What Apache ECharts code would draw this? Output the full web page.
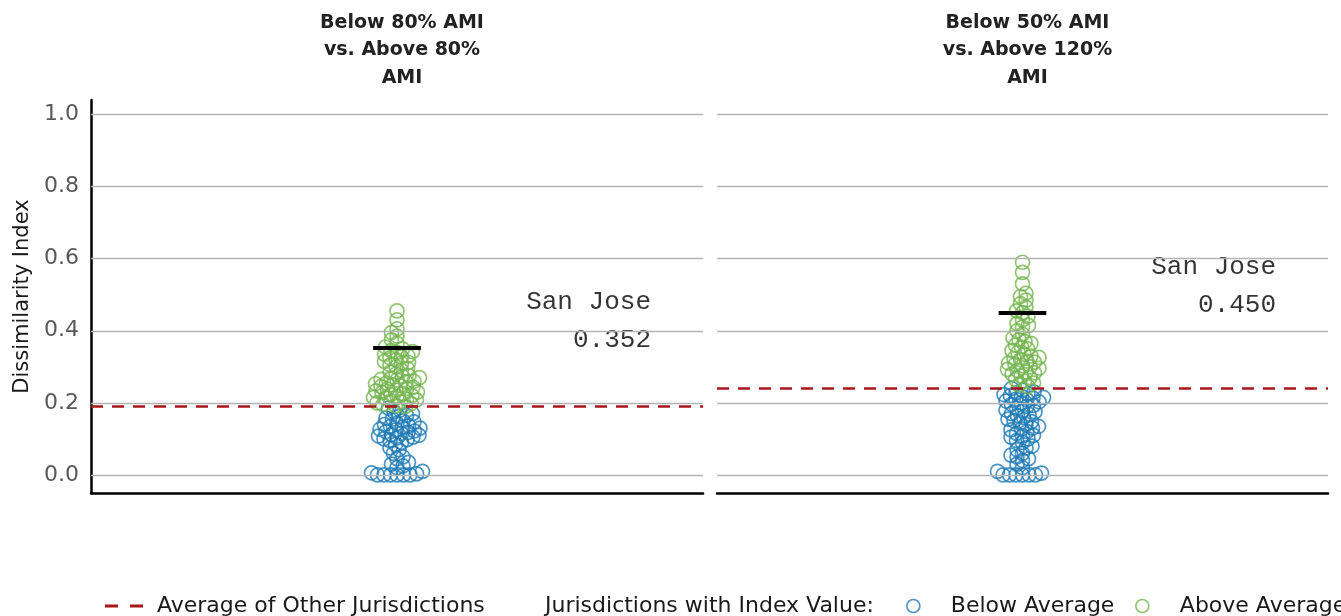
<!DOCTYPE html>
<html><head><meta charset="utf-8">
<script src="https://cdn.jsdelivr.net/npm/echarts@6/dist/echarts.min.js"></script>
<style>html,body{margin:0;padding:0;background:#fff}#c{width:1341px;height:616px}</style>
</head><body><div id="c"></div>
<script>
// ---- data ----
const panelTitles = ['Below 80% AMI\nvs. Above 80%\nAMI', 'Below 50% AMI\nvs. Above 120%\nAMI'];
const yTicks = [0, 0.2, 0.4, 0.6, 0.8, 1.0];
const averageOther = [0.188, 0.241];
const sanJose = [0.352, 0.450];
const sanJoseLabel = 'San Jose';

const belowLeft = [0,0,0,0,0,0,0.003,0.006,0.01,
  0.02,0.025,0.03,0.035,
  0.045,0.05,0.06,0.07,0.075,
  0.085,0.09,0.095,0.098,0.10,0.103,0.105,0.108,0.11,0.112,0.115,0.118,0.12,0.122,0.125,0.127,0.13,0.132,0.135,0.137,0.14,
  0.143,0.147,0.15,0.155,0.158,0.162,0.165,0.17,0.175,0.18,0.185];
const aboveLeft = [0.19,0.192,0.195,0.198,0.20,0.203,0.205,0.208,0.21,0.213,0.215,0.218,0.22,0.223,0.225,0.228,
  0.23,0.233,0.235,0.238,0.24,0.243,0.245,0.248,0.25,0.253,0.255,0.258,0.26,0.263,0.265,0.268,0.27,0.273,0.275,
  0.28,0.285,0.29,0.295,0.30,
  0.305,0.31,0.312,0.315,0.32,0.325,0.328,0.33,0.335,0.34,0.342,0.345,0.35,0.355,
  0.365,0.375,0.385,0.395,0.405,
  0.43,0.455];
const belowRight = [0,0,0,0,0,0,0.005,0.01,
  0.02,0.03,0.04,0.045,0.05,0.055,0.06,0.07,0.075,0.08,0.09,0.095,
  0.10,0.105,0.108,0.11,0.115,0.12,0.125,0.128,0.13,0.135,0.14,0.145,0.148,0.15,0.155,0.16,0.165,0.168,0.17,0.175,0.178,0.18,0.185,
  0.19,0.193,0.196,0.2,0.203,0.205,0.208,0.21,0.213,0.215,0.218,0.22,0.223,0.225,0.228,0.23,0.235,0.24];
const aboveRight = [0.245,0.25,0.255,0.26,0.265,0.27,0.275,0.28,
  0.283,0.286,0.29,0.293,0.296,0.30,0.303,0.306,0.31,0.313,0.316,0.32,0.323,0.326,0.33,0.335,0.34,0.345,
  0.35,0.355,0.36,0.365,0.37,0.375,
  0.38,0.39,0.40,0.41,0.415,0.42,0.43,0.44,0.45,0.455,
  0.465,0.475,0.485,0.495,
  0.504,0.53,0.562,0.59];

const legendNames = ['Average of Other Jurisdictions', 'Jurisdictions with Index Value:', 'Below Average', 'Above Average'];

// ---- styles ----
const BLUE = '#1f7ab5', GREEN = '#76b551', RED = '#a8151a';
const FONT = '"DejaVu Sans", sans-serif';
const grids = [
  {left: 91, width: 612, top: 100, height: 393},
  {left: 717, width: 611, top: 100, height: 393}
];
const YMIN = -0.05, YMAX = 1.04;

// beeswarm layout (pixel-space collision avoidance), returns x offsets in axis units
function swarm(groups, grid) {
  const pxY = grid.height / (YMAX - YMIN);
  const pxX = grid.width / 2;
  const d = 6.2;
  const placed = [];
  const out = groups.map(() => []);
  const all = [];
  groups.forEach((g, gi) => g.forEach(v => all.push({v, gi})));
  all.sort((a, b) => a.v - b.v);
  all.forEach((p, idx) => {
    const y = p.v * pxY;
    const near = placed.filter(q => Math.abs(q.y - y) < d);
    const ok = x => near.every(q => (q.x - x) ** 2 + (q.y - y) ** 2 >= d * d - 1e-6);
    let xs = 0;
    const dir = idx % 2 ? -1 : 1;
    for (let k = 0; k < 400; k++) {
      const cands = k === 0 ? [0] : [dir * k * 0.5, -dir * k * 0.5];
      const f = cands.find(ok);
      if (f !== undefined) { xs = f; break; }
    }
    placed.push({x: xs, y});
    out[p.gi].push([xs / pxX, p.v]);
  });
  return out;
}

const panels = [[belowLeft, aboveLeft], [belowRight, aboveRight]];
const series = [];
const xAxes = [], yAxes = [];
const titles = [];

panels.forEach((groups, i) => {
  const grid = grids[i];
  const [bPts, aPts] = swarm(groups, grid);
  xAxes.push({gridIndex: i, type: 'value', min: -1, max: 1, show: true,
    axisLine: {show: true, onZero: false, lineStyle: {color: '#000', width: 2.5}},
    axisTick: {show: false}, axisLabel: {show: false}, splitLine: {show: false}});
  yAxes.push({gridIndex: i, type: 'value', min: YMIN, max: YMAX, interval: 0.05, position: 'left',
    name: i === 0 ? 'Dissimilarity Index' : '', nameLocation: 'middle', nameGap: 58,
    nameTextStyle: {fontFamily: FONT, fontSize: 21, color: '#1a1a1a'},
    axisLine: {show: i === 0, onZero: false, lineStyle: {color: '#000', width: 2.5}},
    axisTick: {show: false},
    axisLabel: {show: i === 0, margin: 12, fontFamily: FONT, fontSize: 22, color: '#595959',
      formatter: v => yTicks.some(t => Math.abs(t - v) < 1e-6) ? v.toFixed(1) : ''},
    splitLine: {show: false}});
  titles.push({text: panelTitles[i], left: grid.left + grid.width / 2, top: 4, textAlign: 'center',
    textStyle: {fontFamily: FONT, fontSize: 19, fontWeight: 'bold', color: '#222', lineHeight: 27.5}});
  // grid lines
  series.push({type: 'scatter', xAxisIndex: i, yAxisIndex: i, data: [], silent: true, z: 1,
    markLine: {silent: true, symbol: ['none', 'none'], label: {show: false}, animation: false,
      lineStyle: {color: '#b4b4b4', type: 'solid', width: 1.3},
      data: yTicks.map(t => ({yAxis: t}))}});
  series.push({name: 'Below Average', type: 'scatter', xAxisIndex: i, yAxisIndex: i, data: bPts,
    symbol: 'circle', symbolSize: 14, z: 2,
    itemStyle: {color: 'rgba(0,0,0,0)', borderColor: BLUE, borderWidth: 1.7}});
  series.push({name: 'Above Average', type: 'scatter', xAxisIndex: i, yAxisIndex: i, data: aPts,
    symbol: 'circle', symbolSize: 14, z: 2,
    itemStyle: {color: 'rgba(0,0,0,0)', borderColor: GREEN, borderWidth: 1.7}});
  series.push({name: 'Average of Other Jurisdictions', type: 'line', xAxisIndex: i, yAxisIndex: i, data: [],
    z: 3, itemStyle: {color: RED}, lineStyle: {color: RED},
    markLine: {silent: true, symbol: ['none', 'none'], label: {show: false}, animation: false,
      lineStyle: {color: RED, type: [12, 9], width: 2.5},
      data: [{yAxis: averageOther[i]}]}});
  // San Jose marker + label
  series.push({type: 'scatter', xAxisIndex: i, yAxisIndex: i, z: 4, silent: true,
    data: [[0.83, sanJose[i]]], symbolSize: 0,
    label: {show: true, position: 'left', distance: 0, offset: [0, -27],
      formatter: p => sanJoseLabel + '\n' + p.value[1].toFixed(3),
      fontFamily: '"Liberation Mono", "Courier New", monospace', fontSize: 26, lineHeight: 38,
      color: '#000', align: 'right'},
    markLine: {silent: true, symbol: ['none', 'none'], label: {show: false}, animation: false,
      lineStyle: {color: '#000', type: 'solid', width: 4},
      data: [[{coord: [-0.078, sanJose[i]]}, {coord: [0.078, sanJose[i]]}]]}});
});
series.push({name: legendNames[1], type: 'line', data: []});

const legendText = {fontFamily: FONT, fontSize: 22, color: '#1a1a1a'};
const circleStyle = c => ({color: 'rgba(0,0,0,0)', borderColor: c, borderWidth: 1.7});
const option = {
  animation: false,
  title: titles,
  grid: grids,
  xAxis: xAxes,
  yAxis: yAxes,
  legend: [
    {left: 105, top: 595, padding: 0, itemWidth: 38, itemHeight: 3, selectedMode: false,
      textStyle: Object.assign({padding: [0, 0, 0, 9]}, legendText),
      data: [{name: legendNames[0], icon: 'path://M0,0H13V3H0Z M25,0H38V3H25Z', itemStyle: {color: RED}}]},
    {left: 539, top: 595, padding: 0, itemWidth: 1, itemHeight: 1, selectedMode: false, textStyle: legendText,
      data: [{name: legendNames[1], icon: 'rect', itemStyle: {opacity: 0}}]},
    {left: 906, top: 595, padding: 0, itemWidth: 13, itemHeight: 13, selectedMode: false,
      textStyle: Object.assign({padding: [0, 0, 0, 26]}, legendText),
      data: [{name: legendNames[2], icon: 'circle', itemStyle: circleStyle(BLUE)}]},
    {left: 1135, top: 595, padding: 0, itemWidth: 13, itemHeight: 13, selectedMode: false,
      textStyle: Object.assign({padding: [0, 0, 0, 26]}, legendText),
      data: [{name: legendNames[3], icon: 'circle', itemStyle: circleStyle(GREEN)}]}
  ],
  series
};
echarts.init(document.getElementById('c'), null, {renderer: 'canvas'}).setOption(option);
</script>
</body></html>
